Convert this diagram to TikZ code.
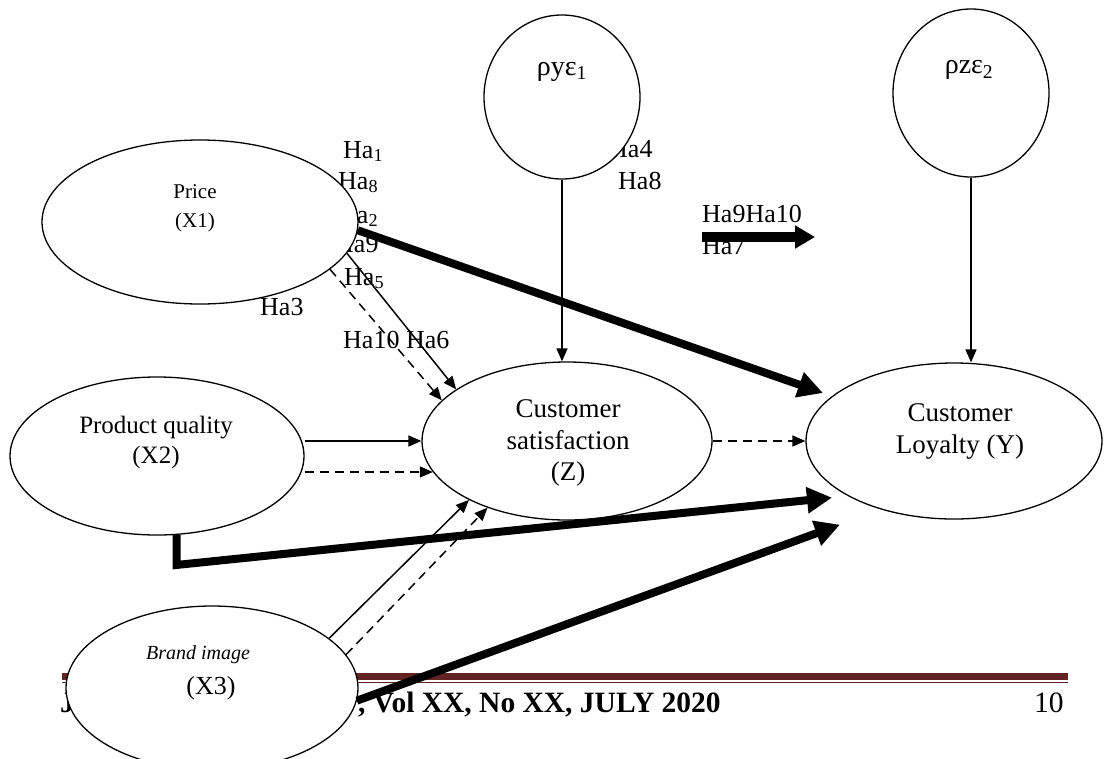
\documentclass[tikz,border=0pt]{standalone}
\usepackage{fontspec}
\setmainfont{Liberation Serif}
\usetikzlibrary{arrows.meta,shapes.geometric,calc}
\pgfdeclarelayer{bg}
\pgfsetlayers{bg,main}
\definecolor{footred}{HTML}{622423}
\begin{document}
\begin{tikzpicture}[x=1pt,y=-1pt,
  ell/.style={ellipse, draw, line width=1.3pt, fill=white, inner sep=0pt},
  ha/.style={font=\fontsize{26}{30}\selectfont, anchor=base west, inner sep=0pt},
  arr/.style={line width=1.5pt, -{Triangle[length=13pt,width=11pt]}},
  darr/.style={arr, dash pattern=on 9pt off 6pt},
  tarr/.style={line width=8pt, -{Triangle[length=25pt,width=25pt]}},
  foot/.style={font=\fontsize{29.5}{33}\selectfont\bfseries, anchor=base west, inner sep=0pt}]
\useasboundingbox (0,0) rectangle (1107,758);
\clip (0,0) rectangle (1107,758);

\begin{pgfonlayer}{bg}
\fill[footred] (62,673) rectangle (1068,680);
\fill[footred] (62,681.5) rectangle (1068,683);
\node[foot] (fj) at (60,712) {J};
\node[foot] (fv) at (358,712) {, Vol XX, No XX, JULY 2020};
\node[foot, font=\fontsize{29.5}{33}\selectfont] (fn) at (1034,712) {10};
\node[ha] (h1) at (343,158) {Ha\textsubscript{1}};
\node[ha] (h8a) at (338,189) {Ha\textsubscript{8}};
\node[ha] (h2) at (338,223) {Ha\textsubscript{2}};
\node[ha] (h9) at (335,252) {Ha9};
\node[ha] (h5) at (344,285) {Ha\textsubscript{5}};
\node[ha] (h3) at (260,315) {Ha3};
\node[ha] (h106) at (343,348) {Ha10 Ha6};
\node[ha] (h4) at (609,157) {Ha4};
\node[ha] (h8b) at (618,189) {Ha8};
\node[ha] (h910) at (702,222) {Ha9Ha10};
\node[ha] (h7) at (702,254) {Ha7};
\end{pgfonlayer}

% ellipses
\node[ell, minimum width=316pt, minimum height=164pt] (price) at (200,222) {};
\node[ell, minimum width=294pt, minimum height=158pt] (pq) at (157,456) {};
\node[ell, minimum width=292pt, minimum height=164pt] (brand) at (212,688) {};
\node[ell, minimum width=290pt, minimum height=158pt] (sat) at (567,441) {};
\node[ell, minimum width=296pt, minimum height=156pt] (loy) at (954,441) {};
\node[ell, minimum width=156pt, minimum height=164pt] (e1) at (562,97) {};
\node[ell, minimum width=156pt, minimum height=168pt] (e2) at (971,93) {};

% texts
\node[font=\fontsize{21}{29}\selectfont, align=center] (pricet) at (195,208) {Price\\(X1)};
\node[font=\fontsize{25}{30}\selectfont, align=center] (pqt) at (156,442) {Product quality\\(X2)};
\node[font=\fontsize{27}{31.5}\selectfont, align=center] (satt) at (568,443) {Customer\\satisfaction\\(Z)};
\node[font=\fontsize{27}{32}\selectfont, align=center] (loyt) at (960,431) {Customer\\Loyalty (Y)};
\node[font=\fontsize{20}{24}\selectfont\itshape] (brt1) at (198,655) {Brand image};
\node[font=\fontsize{26}{30}\selectfont] (brt2) at (211,688) {(X3)};
\node[font=\fontsize{28}{32}\selectfont] (e1t) at (562,72) {ρyε\textsubscript{1}};
\node[font=\fontsize{28}{32}\selectfont] (e2t) at (969,70) {ρzε\textsubscript{2}};

% connectors
\draw[tarr] (price.-3.6) -- ([xshift=-131pt,yshift=48pt]loy.center);
\draw[arr] (price.-12.7) -- (sat.155);
\draw[darr] (price.-20.3) -- (sat.162);
\draw[arr] (pq.east |- sat.west) -- (sat.west);
\draw[darr] (pq.east |- sat.193) -- (sat.193);
\draw[tarr, line join=miter] (pq.-76) -- ++(0,30) -- ([xshift=-122pt,yshift=22pt]loy.south);
\draw[arr] (brand.23.4) -- (sat.211);
\draw[darr] (brand.14) -- (sat.220);
\draw[tarr] (brand.-5.4) -- ([xshift=-114pt,yshift=-5pt]loy.south);
\draw[darr] (sat.east) -- (loy.west);
\draw[arr] (e1.south) -- (e1.south |- sat.north);
\draw[arr] (e2.south) -- (e2.south |- loy.north);

\coordinate (ka) at (702,237);
\coordinate (kb) at (815,237);
\draw[line width=10pt, -{Triangle[length=20pt,width=22pt]}] (ka) -- (kb);
\end{tikzpicture}
\end{document}
